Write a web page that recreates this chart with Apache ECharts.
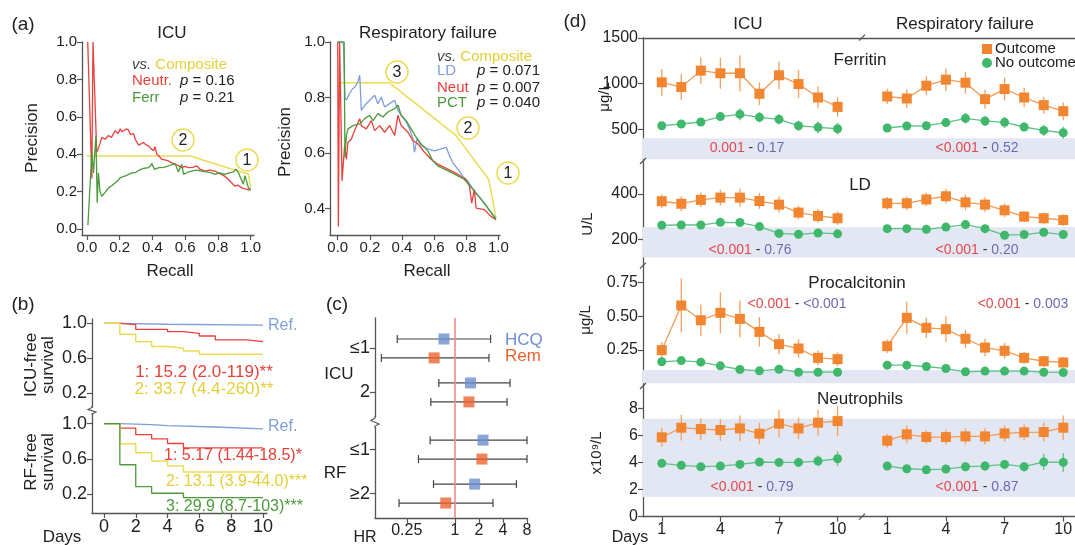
<!DOCTYPE html>
<html>
<head>
<meta charset="utf-8">
<script src="https://cdn.jsdelivr.net/npm/echarts@6/dist/echarts.min.js"></script>
<style>
  html, body { margin: 0; padding: 0; background: #fff; }
  #chart { width: 1075px; height: 545px; }
</style>
</head>
<body>
<div id="chart"></div>
<script>
// ---------- (a) precision-recall curves: [recall, precision] ----------
const icuNeutr = [[0.005,1.0],[0.03,0.27],[0.037,1.0],[0.06,0.41],[0.07,0.43],[0.079,0.427],[0.091,0.49],[0.11,0.48],[0.132,0.50],[0.15,0.49],[0.173,0.526],[0.19,0.51],[0.203,0.535],[0.215,0.52],[0.224,0.517],[0.24,0.535],[0.254,0.53],[0.265,0.505],[0.274,0.50],[0.285,0.51],[0.295,0.48],[0.305,0.47],[0.315,0.449],[0.33,0.455],[0.346,0.463],[0.36,0.45],[0.376,0.445],[0.39,0.43],[0.407,0.418],[0.415,0.44],[0.427,0.40],[0.44,0.39],[0.457,0.373],[0.475,0.37],[0.498,0.364],[0.515,0.355],[0.538,0.346],[0.555,0.34],[0.579,0.328],[0.6,0.335],[0.62,0.328],[0.645,0.33],[0.671,0.337],[0.69,0.32],[0.721,0.31],[0.75,0.315],[0.782,0.31],[0.8,0.30],[0.823,0.292],[0.845,0.28],[0.864,0.265],[0.88,0.25],[0.904,0.229],[0.92,0.235],[0.945,0.22],[0.965,0.215],[0.986,0.21],[1.0,0.21]];
const icuFerr = [[0.006,0.02],[0.03,0.41],[0.04,0.30],[0.055,0.50],[0.063,0.14],[0.07,0.30],[0.08,0.2],[0.091,0.175],[0.11,0.195],[0.132,0.22],[0.15,0.23],[0.173,0.247],[0.19,0.26],[0.203,0.274],[0.22,0.28],[0.24,0.285],[0.254,0.292],[0.275,0.30],[0.295,0.301],[0.31,0.31],[0.33,0.319],[0.35,0.325],[0.376,0.328],[0.39,0.34],[0.395,0.351],[0.413,0.319],[0.44,0.328],[0.47,0.33],[0.498,0.337],[0.52,0.345],[0.538,0.351],[0.558,0.305],[0.579,0.346],[0.59,0.292],[0.62,0.305],[0.64,0.31],[0.67,0.315],[0.70,0.31],[0.73,0.305],[0.76,0.30],[0.782,0.292],[0.81,0.30],[0.84,0.292],[0.87,0.30],[0.895,0.305],[0.91,0.32],[0.925,0.30],[0.955,0.24],[0.965,0.285],[0.986,0.22],[1.0,0.21]];
const icuComposite = [[0.0,0.39],[0.63,0.39],[0.96,0.30],[0.985,0.295],[1.0,0.22]];

const rfLD = [[0.0,1.0],[0.035,1.0],[0.045,0.80],[0.054,0.79],[0.07,0.81],[0.09,0.83],[0.11,0.84],[0.126,0.857],[0.137,0.881],[0.147,0.754],[0.168,0.772],[0.199,0.79],[0.23,0.808],[0.25,0.778],[0.271,0.802],[0.292,0.766],[0.323,0.778],[0.354,0.79],[0.375,0.754],[0.395,0.736],[0.426,0.712],[0.447,0.687],[0.468,0.651],[0.478,0.603],[0.494,0.651],[0.519,0.627],[0.561,0.615],[0.602,0.608],[0.644,0.615],[0.675,0.621],[0.696,0.59],[0.716,0.566],[0.747,0.542],[0.778,0.517],[0.809,0.499],[0.851,0.463],[0.892,0.433],[0.934,0.402],[0.985,0.366]];
const rfNeut = [[0.0,1.0],[0.004,0.336],[0.012,1.0],[0.027,0.5],[0.043,0.627],[0.054,0.578],[0.064,0.639],[0.085,0.651],[0.105,0.681],[0.137,0.724],[0.147,0.699],[0.178,0.687],[0.209,0.717],[0.23,0.681],[0.261,0.699],[0.292,0.675],[0.323,0.699],[0.354,0.663],[0.375,0.736],[0.395,0.699],[0.437,0.675],[0.468,0.645],[0.499,0.633],[0.54,0.603],[0.581,0.578],[0.623,0.56],[0.685,0.542],[0.747,0.524],[0.799,0.505],[0.82,0.481],[0.834,0.42],[0.851,0.469],[0.861,0.402],[0.913,0.396],[0.954,0.372],[0.985,0.36]];
const rfPCT = [[0.0,1.0],[0.04,1.0],[0.045,0.585],[0.054,0.663],[0.064,0.687],[0.095,0.699],[0.137,0.705],[0.168,0.724],[0.199,0.736],[0.22,0.717],[0.25,0.742],[0.281,0.73],[0.312,0.748],[0.354,0.76],[0.375,0.772],[0.395,0.736],[0.426,0.717],[0.457,0.687],[0.488,0.657],[0.519,0.633],[0.561,0.608],[0.592,0.572],[0.623,0.554],[0.664,0.542],[0.727,0.524],[0.789,0.505],[0.851,0.463],[0.913,0.42],[0.985,0.36]];
const rfComposite = [[0.0,0.853],[0.323,0.853],[0.737,0.663],[0.94,0.505],[0.985,0.366]];

// ---------- (b) survival curves: [day, survival] ----------
const icuRef = [[0,1],[1,0.99],[4,0.98],[10,0.98]];
const icuGroup1 = [[0,1],[1,0.985],[2,0.93],[4,0.905],[5,0.886],[6,0.855],[7,0.81],[9,0.79],[10,0.79]];
const icuGroup2 = [[0,1],[1,0.874],[2,0.79],[3,0.733],[4,0.714],[5,0.684],[6,0.646],[10,0.646]];
const rfRef = [[0,1],[1,0.99],[3,0.977],[4,0.962],[7,0.94],[10,0.94]];
const rfGroup1 = [[0,1],[1,0.95],[2,0.875],[3,0.826],[4,0.774],[5,0.725],[10,0.725]];
const rfGroup2 = [[0,1],[1,0.77],[2,0.668],[3,0.574],[4,0.517],[5,0.45],[10,0.45]];
const rfGroup3 = [[0,1],[1,0.532],[2,0.283],[3,0.208],[5,0.158],[10,0.158]];

// ---------- (c) hazard ratios ----------
const hrGroups = ['≤1', '2', '≤1', '≥2'];
const hcqHR = [0.73, 1.57, 2.25, 1.77];
const hcqLow = [0.19, 0.63, 0.49, 0.54];
const hcqHigh = [2.8, 4.9, 8, 5.9];
const remHR = [0.55, 1.5, 2.18, 0.77];
const remLow = [0.12, 0.50, 0.35, 0.20];
const remHigh = [2.67, 4.5, 8, 3.0];
const hrTicks = [0.25, 1, 2, 4, 8];

// ---------- (d) daily values, mean and error ----------
const days = [1, 2, 3, 4, 5, 6, 7, 8, 9, 10];
const dayTicks = [1, 4, 7, 10];

const ferritinIcuOut = [1015, 963, 1143, 1114, 1114, 890, 1092, 996, 849, 746];
const ferritinIcuOutErr = [147, 143, 143, 169, 198, 123, 152, 152, 119, 110];
const ferritinIcuNo = [540, 559, 581, 640, 665, 632, 610, 540, 522, 507];
const ferritinIcuNoErr = [25, 30, 35, 45, 65, 55, 55, 55, 65, 65];
const ferritinRfOut = [860, 838, 978, 1044, 1011, 831, 941, 849, 765, 699];
const ferritinRfOutErr = [85, 100, 105, 123, 120, 105, 125, 107, 92, 95];
const ferritinRfNo = [515, 537, 540, 574, 621, 592, 577, 526, 489, 463];
const ferritinRfNoErr = [20, 25, 30, 40, 60, 55, 60, 50, 60, 65];

const ldIcuOut = [368, 357, 374, 384, 384, 369, 353, 318, 303, 293];
const ldIcuOutErr = [30, 33, 33, 35, 40, 35, 35, 30, 30, 30];
const ldIcuNo = [262, 263, 263, 275, 274, 256, 226, 222, 228, 224];
const ldIcuNoErr = [10, 10, 12, 12, 12, 12, 12, 12, 15, 15];
const ldRfOut = [359, 359, 376, 390, 363, 353, 328, 300, 293, 285];
const ldRfOutErr = [28, 30, 30, 32, 35, 33, 30, 25, 25, 25];
const ldRfNo = [247, 247, 244, 254, 265, 247, 218, 221, 231, 221];
const ldRfNoErr = [8, 8, 10, 12, 14, 14, 12, 12, 18, 18];

const pctIcuOut = [0.249, 0.579, 0.47, 0.525, 0.48, 0.384, 0.293, 0.261, 0.192, 0.182];
const pctIcuOutErr = [0.06, 0.2, 0.117, 0.15, 0.135, 0.11, 0.074, 0.068, 0.055, 0.05];
const pctIcuNo = [0.163, 0.172, 0.160, 0.133, 0.106, 0.096, 0.108, 0.086, 0.086, 0.086];
const pctIcuNoErr = [0.015, 0.02, 0.015, 0.012, 0.01, 0.01, 0.01, 0.008, 0.008, 0.008];
const pctRfOut = [0.278, 0.488, 0.414, 0.404, 0.333, 0.268, 0.244, 0.192, 0.167, 0.158];
const pctRfOutErr = [0.05, 0.12, 0.076, 0.095, 0.068, 0.065, 0.058, 0.045, 0.04, 0.04];
const pctRfNo = [0.138, 0.138, 0.128, 0.113, 0.089, 0.094, 0.094, 0.094, 0.086, 0.084];
const pctRfNoErr = [0.012, 0.012, 0.01, 0.01, 0.01, 0.01, 0.01, 0.01, 0.01, 0.01];

const neutIcuOut = [5.86, 6.57, 6.47, 6.40, 6.52, 6.13, 6.87, 6.52, 6.94, 7.06];
const neutIcuOutErr = [0.7, 0.95, 0.8, 0.8, 0.95, 0.8, 1.0, 0.8, 0.95, 1.1];
const neutIcuNo = [3.94, 3.79, 3.69, 3.74, 3.86, 4.04, 4.01, 4.01, 4.11, 4.28];
const neutIcuNoErr = [0.2, 0.2, 0.2, 0.2, 0.25, 0.3, 0.3, 0.35, 0.4, 0.55];
const neutRfOut = [5.61, 6.08, 5.88, 5.88, 5.93, 5.93, 6.15, 6.23, 6.25, 6.57];
const neutRfOutErr = [0.5, 0.65, 0.5, 0.55, 0.6, 0.6, 0.6, 0.6, 0.7, 0.9];
const neutRfNo = [3.74, 3.54, 3.47, 3.52, 3.69, 3.74, 3.86, 3.69, 4.04, 4.01];
const neutRfNoErr = [0.2, 0.2, 0.2, 0.2, 0.3, 0.35, 0.35, 0.35, 0.6, 0.7];

// shaded reference bands [low, high]
const ferritinBand = [173, 402];
const ldBand = [120, 253];
const pctBand = [0.004, 0.102];
const neutBand = [1.45, 7.24];

// ---------- styles ----------
const FONT = 'Liberation Sans';
const AX = '#555';
const RED = '#e8413c', GREEN = '#4c9a3c', YEL = '#ebdc55', BLUE = '#7f9fd8';
const ORANGE = '#f28530', MINT = '#3fb86b';
const YEL_TXT = '#e2cf3a';

const chart = echarts.init(document.getElementById('chart'));

const grids = [];
const xAxes = [];
const yAxes = [];
const series = [];
const graphics = [];

function grid(left, top, width, height) {
  grids.push({ left, top, width, height, outerBoundsMode: 'none' });
  return grids.length - 1;
}

function axis(type, gridIndex, min, max, ticks, fmt, extra, fs) {
  const show = ticks != null;
  return Object.assign({
    type, gridIndex, min, max,
    axisLine: { show: true, onZero: false, lineStyle: { color: AX, width: 1.3 } },
    axisTick: { show, length: 5, customValues: ticks || undefined, lineStyle: { color: AX, width: 1.2 } },
    axisLabel: { show, customValues: ticks || undefined, formatter: fmt, color: '#222', fontSize: fs || 15, fontFamily: FONT, margin: 5 },
    splitLine: { show: false }
  }, extra || {});
}

function text(x, y, str, o) {
  o = o || {};
  graphics.push({
    type: 'text', x, y, rotation: o.rot || 0, z: 100,
    style: {
      text: str, fill: o.color || '#222', fontSize: o.size || 15, fontFamily: FONT,
      fontStyle: o.italic ? 'italic' : 'normal',
      align: o.align || 'center', verticalAlign: 'middle', lineHeight: o.lh, rich: o.rich
    }
  });
}

function circled(x, y, n) {
  graphics.push({ type: 'circle', shape: { cx: x, cy: y, r: 11 }, style: { fill: '#fff', stroke: YEL, lineWidth: 1.5 }, z: 90 });
  text(x, y + 1, n, { size: 16 });
}

function line(xi, data, color, extra) {
  series.push(Object.assign({
    type: 'line', xAxisIndex: xi, yAxisIndex: xi, data, showSymbol: false, symbol: 'none',
    lineStyle: { color, width: 1.3 }, silent: true
  }, extra || {}));
}

const f1 = v => v.toFixed(1);

// ---------- (a) ----------
let g = grid(82, 42, 172, 193);
xAxes.push(axis('value', g, -0.03, 1.02, [0, 0.2, 0.4, 0.6, 0.8, 1.0], f1));
yAxes.push(axis('value', g, -0.032, 1.0, [0, 0.2, 0.4, 0.6, 0.8, 1.0], f1));
line(g, icuComposite, YEL, { lineStyle: { color: YEL, width: 1.5 } });
line(g, icuNeutr, RED);
line(g, icuFerr, GREEN);

g = grid(330, 42, 170, 193);
xAxes.push(axis('value', g, -0.048, 1.01, [0, 0.2, 0.4, 0.6, 0.8, 1.0], f1));
yAxes.push(axis('value', g, 0.305, 1.0, [0.4, 0.6, 0.8, 1.0], f1));
line(g, rfComposite, YEL, { lineStyle: { color: YEL, width: 1.5 } });
line(g, rfLD, BLUE);
line(g, rfNeut, RED);
line(g, rfPCT, GREEN);

text(23, 25, '(a)', { size: 19 });
text(172, 33, 'ICU', { size: 17 });
text(428, 33, 'Respiratory failure', { size: 17 });
text(32, 138, 'Precision', { size: 17, rot: Math.PI / 2 });
text(285, 142, 'Precision', { size: 17, rot: Math.PI / 2 });
text(170, 271, 'Recall', { size: 17 });
text(427, 271, 'Recall', { size: 17 });

const richP = { i: { fontStyle: 'italic', fontSize: 15, fontFamily: FONT, fill: '#222' } };
const richVs = { v: { fontStyle: 'italic', fontSize: 15, fontFamily: FONT, fill: '#444' }, c: { fontSize: 15, fontFamily: FONT, fill: YEL_TXT } };
text(132, 65, '{v|vs.} {c|Composite}', { align: 'left', rich: richVs });
text(132, 81, 'Neutr.', { align: 'left', color: RED });
text(180, 81, '{i|p} = 0.16', { align: 'left', rich: richP });
text(132, 98, 'Ferr', { align: 'left', color: GREEN });
text(180, 98, '{i|p} = 0.21', { align: 'left', rich: richP });
circled(183, 140, '2');
circled(247, 160, '1');

text(437, 57, '{v|vs.} {c|Composite}', { align: 'left', rich: richVs });
text(437, 71, 'LD', { align: 'left', color: BLUE });
text(477, 71, '{i|p} = 0.071', { align: 'left', rich: richP });
text(437, 88, 'Neut', { align: 'left', color: RED });
text(477, 88, '{i|p} = 0.007', { align: 'left', rich: richP });
text(437, 103, 'PCT', { align: 'left', color: GREEN });
text(477, 103, '{i|p} = 0.040', { align: 'left', rich: richP });
circled(397, 72, '3');
circled(468, 128, '2');
circled(508, 173, '1');

// ---------- (b) ----------
const dayFmt = v => String(v);
g = grid(92, 319, 175, 88);
xAxes.push(axis('value', g, -0.75, 10.25, null, null, { axisLine: { show: false } }));
yAxes.push(axis('value', g, 0.04, 1.05, [0.2, 0.6, 1.0], f1, null, 18));
line(g, icuRef, BLUE, { step: 'end' });
line(g, icuGroup1, RED, { step: 'end' });
line(g, icuGroup2, YEL, { step: 'end', lineStyle: { color: YEL, width: 1.5 } });

g = grid(92, 414, 175, 99);
xAxes.push(axis('value', g, -0.75, 10.25, [0, 2, 4, 6, 8, 10], dayFmt, null, 18));
yAxes.push(axis('value', g, -0.017, 1.11, [0.2, 0.6, 1.0], f1, null, 18));
line(g, rfRef, BLUE, { step: 'end' });
line(g, rfGroup1, RED, { step: 'end' });
line(g, rfGroup2, YEL, { step: 'end', lineStyle: { color: YEL, width: 1.5 } });
line(g, rfGroup3, GREEN, { step: 'end' });

text(23, 305, '(b)', { size: 19 });
text(40, 365, 'ICU-free\nsurvival', { size: 17, rot: Math.PI / 2, lh: 17 });
text(40, 462, 'RF-free\nsurvival', { size: 17, rot: Math.PI / 2, lh: 17 });
text(62, 537, 'Days', { size: 17 });
text(268, 326, 'Ref.', { align: 'left', color: BLUE, size: 16 });
text(268, 427, 'Ref.', { align: 'left', color: BLUE, size: 16 });
text(204, 372, '1: 15.2 (2.0-119)**', { color: RED, size: 17 });
text(204, 389, '2: 33.7 (4.4-260)**', { color: YEL_TXT, size: 17 });
text(164, 456, '1: 5.17 (1.44-18.5)*', { color: RED, size: 16, align: 'left' });
text(166, 482, '2: 13.1 (3.9-44.0)***', { color: YEL_TXT, size: 16, align: 'left' });
text(166, 507, '3: 29.9 (8.7-103)***', { color: GREEN, size: 16, align: 'left' });
graphics.push({ type: 'polyline', shape: { points: [[92, 406], [92, 407.5], [88, 409.5], [96, 412], [92, 414], [92, 415]] }, style: { stroke: AX, lineWidth: 1.2, fill: null }, z: 100 });

// ---------- (c) ----------
// row positions: each group holds an HCQ row and a Rem row, RF groups sit below the break
const groupPos = hrGroups.map((_, i) => i + (i >= 2 ? 0.3 : 0));
const tickPos = groupPos.map(p => p + 0.215);
g = grid(375, 318, 152, 200);
xAxes.push(axis('log', g, 0.1, 8, hrTicks, v => String(v), { logBase: 2 }, 16));
yAxes.push(axis('value', g, -0.477, 4.07, tickPos, v => {
  const i = tickPos.findIndex(p => Math.abs(p - v) < 0.01);
  return i >= 0 ? hrGroups[i] : '';
}, { inverse: true }, 18));

function hrBars(low, high, off) {
  series.push({
    type: 'custom', xAxisIndex: g, yAxisIndex: g, silent: true, z: 3,
    data: low.map((l, i) => [l, high[i], groupPos[i] + off]),
    encode: { x: [0, 1], y: 2 },
    renderItem: (params, api) => {
      const a = api.coord([api.value(0), api.value(2)]);
      const b = api.coord([api.value(1), api.value(2)]);
      const st = { stroke: '#444', lineWidth: 1.2 };
      return { type: 'group', children: [
        { type: 'line', shape: { x1: a[0], y1: a[1], x2: b[0], y2: b[1] }, style: st },
        { type: 'line', shape: { x1: a[0], y1: a[1] - 4, x2: a[0], y2: a[1] + 4 }, style: st },
        { type: 'line', shape: { x1: b[0], y1: b[1] - 4, x2: b[0], y2: b[1] + 4 }, style: st }
      ] };
    }
  });
}
hrBars(hcqLow, hcqHigh, 0);
hrBars(remLow, remHigh, 0.43);
series.push({
  type: 'scatter', xAxisIndex: g, yAxisIndex: g, silent: true, z: 5,
  symbol: 'rect', symbolSize: 11, itemStyle: { color: '#6f8fcf' },
  data: hcqHR.map((v, i) => [v, groupPos[i]]),
  markLine: { silent: true, symbol: 'none', label: { show: false }, lineStyle: { color: '#f08a8a', width: 1.6, type: 'solid' }, data: [{ xAxis: 1 }] }
});
series.push({
  type: 'scatter', xAxisIndex: g, yAxisIndex: g, silent: true, z: 5,
  symbol: 'rect', symbolSize: 11, itemStyle: { color: '#ec6430' },
  data: remHR.map((v, i) => [v, groupPos[i] + 0.43])
});
text(337, 305, '(c)', { size: 19 });
text(339, 374, 'ICU', { size: 17 });
text(335, 473, 'RF', { size: 17 });
text(365, 538, 'HR', { size: 16 });
text(505, 340, 'HCQ', { size: 17, align: 'left', color: '#6f8fcf' });
text(505, 356, 'Rem', { size: 17, align: 'left', color: '#ec6430' });
graphics.push({ type: 'rect', shape: { x: 370, y: 417, width: 10, height: 10 }, style: { fill: '#fff' }, z: 99 });
graphics.push({ type: 'polyline', shape: { points: [[375, 416], [375, 418], [371, 420.5], [379, 424], [375, 426], [375, 428]] }, style: { stroke: AX, lineWidth: 1.2, fill: null }, z: 100 });

// ---------- (d) ----------
const dPanels = [
  { unit: 'μg/L', top: 38, h: 123, min: 154, max: 1500, ticks: [500, 1000, 1500], fmt: v => String(v), band: ferritinBand,
    cols: [[ferritinIcuOut, ferritinIcuOutErr, ferritinIcuNo, ferritinIcuNoErr], [ferritinRfOut, ferritinRfOutErr, ferritinRfNo, ferritinRfNoErr]] },
  { unit: 'U/L', top: 161, h: 104.7, min: 83.4, max: 545.7, ticks: [200, 400], fmt: v => String(v), band: ldBand,
    cols: [[ldIcuOut, ldIcuOutErr, ldIcuNo, ldIcuNoErr], [ldRfOut, ldRfOutErr, ldRfNo, ldRfNoErr]] },
  { unit: 'μg/L', top: 265.7, h: 120.3, min: -0.016, max: 0.873, ticks: [0.25, 0.5, 0.75], fmt: v => v.toFixed(2), band: pctBand,
    cols: [[pctIcuOut, pctIcuOutErr, pctIcuNo, pctIcuNoErr], [pctRfOut, pctRfOutErr, pctRfNo, pctRfNoErr]] },
  { unit: 'x10⁹/L', top: 386, h: 130.7, min: 0, max: 9.65, ticks: [0, 2, 4, 6, 8], fmt: v => String(v), band: neutBand,
    cols: [[neutIcuOut, neutIcuOutErr, neutIcuNo, neutIcuNoErr], [neutRfOut, neutRfOutErr, neutRfNo, neutRfNoErr]] }
];
const dCols = [{ left: 643, width: 219, min: 0.04, max: 11.25 }, { left: 862, width: 213, min: -0.29, max: 10.6 }];

function vErr(gi, means, errs, color, z) {
  series.push({
    type: 'custom', xAxisIndex: gi, yAxisIndex: gi, silent: true, z,
    data: days.map((d, i) => [d, means[i] - errs[i], means[i] + errs[i]]),
    encode: { x: 0, y: [1, 2] },
    renderItem: (params, api) => {
      const a = api.coord([api.value(0), api.value(1)]);
      const b = api.coord([api.value(0), api.value(2)]);
      return { type: 'line', shape: { x1: a[0], y1: a[1], x2: b[0], y2: b[1] }, style: { stroke: color, lineWidth: 1.3 } };
    }
  });
}

dPanels.forEach((p, r) => {
  dCols.forEach((c, k) => {
    const gi = grid(c.left, p.top, c.width, p.h);
    const first = r === 0, last = r === dPanels.length - 1;
    xAxes.push(axis('value', gi, c.min, c.max, last ? dayTicks : null, dayFmt,
      { position: first ? 'top' : 'bottom', axisLine: { show: first || last, onZero: false, lineStyle: { color: AX, width: 1.3 } } }, 16));
    yAxes.push(k === 0 ? axis('value', gi, p.min, p.max, p.ticks, p.fmt, null, 16) : { type: 'value', gridIndex: gi, min: p.min, max: p.max, show: false, splitLine: { show: false } });
    const [out, outErr, no, noErr] = p.cols[k];
    vErr(gi, out, outErr, '#f5a15e', 3);
    vErr(gi, no, noErr, '#5cc487', 3);
    series.push({
      type: 'line', xAxisIndex: gi, yAxisIndex: gi, silent: true, z: 4,
      data: days.map((d, i) => [d, no[i]]), symbol: 'circle', symbolSize: 9,
      lineStyle: { color: '#5cc487', width: 1.3 }, itemStyle: { color: MINT },
      markArea: { silent: true, itemStyle: { color: '#e3e7f3' }, data: [[{ yAxis: p.band[0] }, { yAxis: p.band[1] }]] }
    });
    series.push({
      type: 'line', xAxisIndex: gi, yAxisIndex: gi, silent: true, z: 5,
      data: days.map((d, i) => [d, out[i]]), symbol: 'rect', symbolSize: 10,
      lineStyle: { color: '#f39a52', width: 1.3 }, itemStyle: { color: ORANGE }
    });
  });
});

const richPv = {
  r: { fill: '#e2494b', fontSize: 14, fontFamily: FONT },
  b: { fill: '#6b6bb5', fontSize: 14, fontFamily: FONT },
  k: { fill: '#333', fontSize: 14, fontFamily: FONT }
};
function pv(x, y, a, b) { text(x, y, '{r|' + a + '}{k| - }{b|' + b + '}', { rich: richPv }); }
pv(747, 148, '0.001', '0.17');
pv(977, 148, '<0.001', '0.52');
pv(750, 250, '<0.001', '0.76');
pv(977, 250, '<0.001', '0.20');
pv(797, 304, '<0.001', '<0.001');
pv(1023, 304, '<0.001', '0.003');
pv(752, 487, '<0.001', '0.79');
pv(977, 487, '<0.001', '0.87');

text(575, 22, '(d)', { size: 19 });
text(748, 24, 'ICU', { size: 17 });
text(965, 24, 'Respiratory failure', { size: 17 });
text(860, 60, 'Ferritin', { size: 17 });
text(860, 185, 'LD', { size: 17 });
text(857, 283, 'Procalcitonin', { size: 17 });
text(860, 399, 'Neutrophils', { size: 17 });
text(605, 97, 'μg/L', { size: 15, rot: Math.PI / 2 });
text(588, 224, 'U/L', { size: 15, rot: Math.PI / 2 });
text(586, 320, 'μg/L', { size: 15, rot: Math.PI / 2 });
text(597, 453, 'x10⁹/L', { size: 15, rot: Math.PI / 2 });
text(630, 538, 'Days', { size: 16 });
graphics.push({ type: 'rect', shape: { x: 982, y: 44, width: 10, height: 10 }, style: { fill: ORANGE }, z: 100 });
graphics.push({ type: 'circle', shape: { cx: 987, cy: 63, r: 5 }, style: { fill: MINT }, z: 100 });
text(995, 49, 'Outcome', { size: 15, align: 'left' });
text(995, 63, 'No outcome', { size: 15, align: 'left' });
[[643, 161], [643, 265.7], [643, 386], [862, 37.7], [862, 516.7]].forEach(([x, y]) => {
  graphics.push({ type: 'line', shape: { x1: x - 3, y1: y + 3, x2: x + 3, y2: y - 3 }, style: { stroke: AX, lineWidth: 1.2 }, z: 100 });
});

chart.setOption({
  animation: false,
  backgroundColor: '#fff',
  textStyle: { fontFamily: FONT },
  grid: grids,
  xAxis: xAxes,
  yAxis: yAxes,
  series,
  graphic: graphics
});
</script>
</body>
</html>
